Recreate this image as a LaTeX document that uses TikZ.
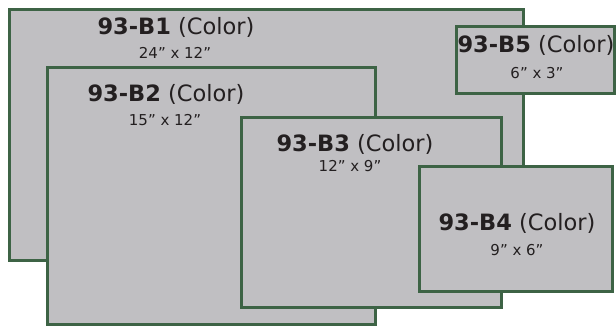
\documentclass[tikz,border=0pt]{standalone}
\usepackage{fontspec}
\setmainfont{DejaVu Sans}
\usepackage{tikz}

\definecolor{framegreen}{RGB}{61,99,69}
\definecolor{cardgray}{RGB}{192,191,194}
\definecolor{labelink}{RGB}{35,31,32}

\tikzset{
  card/.style={draw=framegreen, fill=cardgray, line width=3pt},
  title/.style={font=\fontsize{22.5}{25}\selectfont, text=labelink, inner sep=0pt},
  size/.style={font=\fontsize{15}{17}\selectfont, text=labelink, inner sep=0pt}
}

\begin{document}
\begin{tikzpicture}[x=1pt,y=-1pt]
    \useasboundingbox (0,0) rectangle (616,326);
    % the five sizes, largest first
    \filldraw[card] (9,10) rectangle (523,260);
    \filldraw[card] (47,68) rectangle (375,324);
    \filldraw[card] (241,118) rectangle (501,307);
    \filldraw[card] (419,167) rectangle (612,291);
    \filldraw[card] (456,27) rectangle (614,94);
    % labels
    \node[title] (b1) at (176,27) {\textbf{93-B1} (Color)};
    \node[size] (b1size) at (175,53) {24” x 12”};
    \node[title] (b2) at (166,94) {\textbf{93-B2} (Color)};
    \node[size] (b2size) at (165,120) {15” x 12”};
    \node[title] (b3) at (355,144) {\textbf{93-B3} (Color)};
    \node[size] (b3size) at (350,166) {12” x 9”};
    \node[title] (b4) at (517,223) {\textbf{93-B4} (Color)};
    \node[size] (b4size) at (517,250) {9” x 6”};
    \node[title] (b5) at (536,45) {\textbf{93-B5} (Color)};
    \node[size] (b5size) at (537,73) {6” x 3”};
\end{tikzpicture}
\end{document}
